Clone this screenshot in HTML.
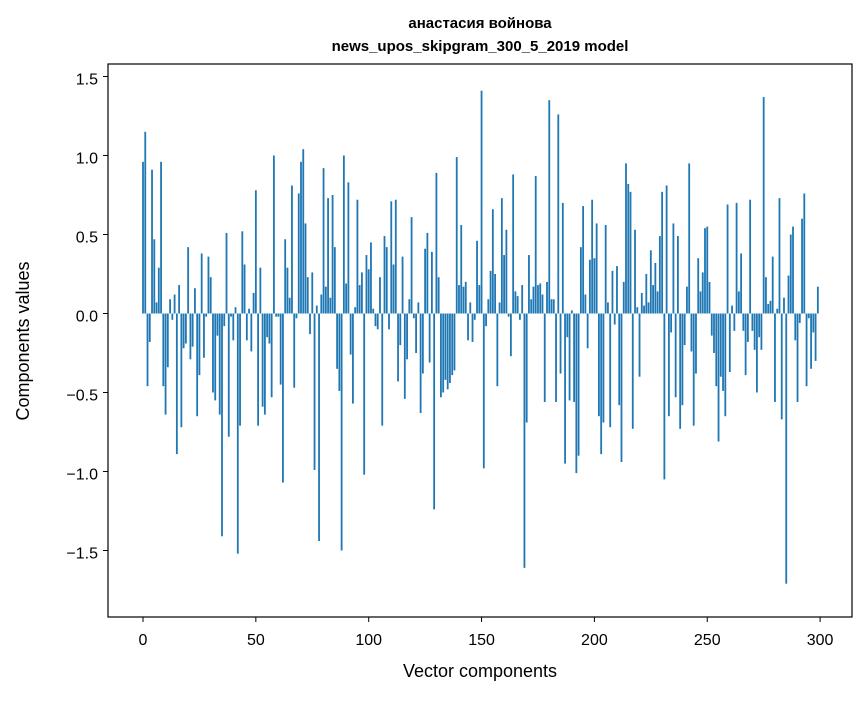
<!DOCTYPE html>
<html><head><meta charset="utf-8"><style>
body{margin:0;background:#fff;}
svg text{font-family:"Liberation Sans","DejaVu Sans",sans-serif;fill:#000;}
</style></head><body>
<svg id="chart" width="867" height="696" viewBox="0 0 867 696">
<rect width="867" height="696" fill="#fff"/>
<text x="480" y="28" text-anchor="middle" font-size="15" font-weight="bold">анастасия войнова</text>
<text x="480" y="51" text-anchor="middle" font-size="15" font-weight="bold">news_upos_skipgram_300_5_2019 model</text>
<g id="bars"></g>
<g id="axes"></g>
<rect x="108" y="64" width="744" height="553" fill="none" stroke="#000" stroke-width="1.2"/>
<text x="480" y="677" text-anchor="middle" font-size="18">Vector components</text>
<text transform="translate(29,341) rotate(-90)" text-anchor="middle" font-size="18">Components values</text>
</svg>
<script>
const values = [
0.96,1.15,-0.46,-0.18,0.91,0.47,0.07,0.29,0.96,-0.46,-0.64,-0.34,0.09,-0.04,0.12,-0.89,0.18,-0.72,-0.22,-0.19,0.42,-0.29,-0.21,0.16,-0.65,
-0.39,0.38,-0.28,-0.02,0.36,0.23,-0.50,-0.55,-0.14,-0.64,-1.41,-0.08,0.51,-0.78,-0.02,-0.17,0.04,-1.52,-0.71,0.52,0.31,-0.17,0.03,-0.24,0.13,
0.78,-0.71,0.29,-0.59,-0.64,-0.15,-0.19,-0.53,1.00,-0.02,-0.02,-0.45,-1.07,0.47,0.29,0.10,0.81,-0.47,-0.03,0.76,0.96,1.04,0.57,0.23,-0.13,
0.26,-0.99,0.05,-1.44,0.12,0.92,0.17,0.73,0.10,0.75,0.42,-0.35,-0.49,-1.50,1.00,0.19,0.83,-0.26,-0.57,0.04,0.72,0.18,0.26,-1.02,0.37,
0.28,0.45,0.03,-0.08,-0.10,0.23,-0.71,0.49,0.42,-0.10,0.71,0.31,0.72,-0.43,-0.20,0.36,-0.54,-0.29,0.09,0.61,-0.03,-0.25,0.07,-0.63,-0.38,
0.41,0.51,-0.31,0.39,-1.24,0.89,0.23,-0.53,-0.50,-0.42,-0.48,-0.44,-0.39,-0.36,0.99,0.18,0.56,0.17,0.20,-0.17,0.07,-0.18,-0.04,0.46,0.18,
1.41,-0.98,-0.08,0.09,0.27,0.66,0.25,-0.46,0.07,0.73,0.37,0.53,-0.02,-0.27,0.88,0.14,0.11,-0.04,0.18,-1.61,-0.69,0.37,0.09,0.17,0.87,
0.18,0.19,0.12,-0.56,0.20,1.35,0.09,0.09,-0.56,1.26,-0.38,0.70,-0.95,-0.15,-0.55,0.02,-0.56,-1.01,-0.90,0.42,0.68,0.12,-0.22,0.34,0.72,
0.35,0.57,-0.65,-0.89,-0.69,0.56,0.07,-0.72,0.27,-0.07,0.30,-0.58,-0.94,0.20,0.95,0.82,0.77,-0.73,0.53,0.04,-0.40,0.13,0.05,0.25,0.07,
0.40,0.18,0.32,0.14,0.49,0.77,-1.05,0.81,-0.65,-0.12,0.57,-0.53,0.49,-0.73,-0.58,-0.20,0.17,0.95,-0.24,-0.71,-0.38,0.35,0.14,0.26,0.54,
0.55,0.20,-0.14,-0.25,-0.46,-0.81,-0.40,-0.49,-0.65,0.69,-0.37,0.05,-0.11,0.70,0.14,0.38,-0.11,-0.39,-0.18,0.72,-0.11,-0.23,-0.50,-0.15,-0.23,
1.37,0.23,0.06,0.08,0.36,-0.56,0.03,0.73,-0.67,0.10,-1.71,0.24,0.50,0.55,-0.17,-0.56,-0.06,0.60,0.76,-0.46,-0.03,-0.35,-0.12,-0.30,0.17
];
const xTicks = [0,50,100,150,200,250,300];
const yTicks = [-1.5,-1.0,-0.5,0.0,0.5,1.0,1.5];
const yTickLabels = ["\u22121.5","\u22121.0","\u22120.5","0.0","0.5","1.0","1.5"];

const NS = "http://www.w3.org/2000/svg";
function xScale(v){ return 143 + v * 2.257; }
function yScale(v){ return 313.5 - v * 158; }
const bars = document.getElementById('bars');
values.forEach((v, i) => {
  const r = document.createElementNS(NS, 'rect');
  const y0 = yScale(0), y1 = yScale(v);
  r.setAttribute('x', xScale(i - 0.4));
  r.setAttribute('width', 0.8 * 2.257);
  r.setAttribute('y', Math.min(y0, y1));
  r.setAttribute('height', Math.abs(y1 - y0));
  r.setAttribute('fill', '#1f77b4');
  
  
  bars.appendChild(r);
});
const axes = document.getElementById('axes');
xTicks.forEach(t => {
  const x = xScale(t);
  const l = document.createElementNS(NS, 'line');
  l.setAttribute('x1', x); l.setAttribute('x2', x);
  l.setAttribute('y1', 617); l.setAttribute('y2', 622);
  l.setAttribute('stroke', '#000');
  
  
  axes.appendChild(l);
  const tx = document.createElementNS(NS, 'text');
  tx.setAttribute('x', x); tx.setAttribute('y', 645);
  tx.setAttribute('text-anchor', 'middle');
  tx.setAttribute('font-size', '16');
  tx.textContent = String(t);
  
  
  axes.appendChild(tx);
});
yTicks.forEach((t, i) => {
  const y = yScale(t);
  const l = document.createElementNS(NS, 'line');
  l.setAttribute('x1', 103); l.setAttribute('x2', 108);
  l.setAttribute('y1', y); l.setAttribute('y2', y);
  l.setAttribute('stroke', '#000');
  
  
  axes.appendChild(l);
  const tx = document.createElementNS(NS, 'text');
  tx.setAttribute('x', 98); tx.setAttribute('y', y + 8);
  tx.setAttribute('text-anchor', 'end');
  tx.setAttribute('font-size', '16');
  tx.textContent = yTickLabels[i];
  
  
  axes.appendChild(tx);
});
</script>
</body></html>
